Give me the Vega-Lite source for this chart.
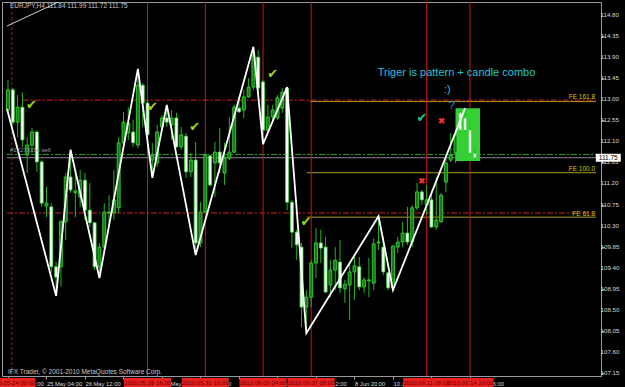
{
 "$schema": "https://vega.github.io/schema/vega-lite/v6.json",
 "width": 599, "height": 374,
 "autosize": {"type": "none"},
 "padding": {"left": 2, "top": 2, "right": 24, "bottom": 11},
 "background": "#000000",
 "config": {
  "view": {"stroke": "#9a9a9a", "strokeWidth": 1},
  "axis": {"grid": false, "domain": false, "labelFont": "Liberation Sans", "labelFontSize": 5.8, "labelColor": "#d8d8d8", "tickColor": "#a0a0a0", "tickSize": 3, "title": null}
 },
 "datasets": {
  "cd": [
   {"i":0,"o":112.77,"h":113.41,"l":112.73,"c":113.20},
   {"i":1,"o":113.20,"h":113.24,"l":112.45,"c":112.51},
   {"i":2,"o":112.51,"h":113.09,"l":112.19,"c":112.83},
   {"i":3,"o":112.83,"h":113.15,"l":111.98,"c":112.13},
   {"i":4,"o":111.81,"h":112.19,"l":111.42,"c":112.02},
   {"i":5,"o":112.02,"h":112.39,"l":111.85,"c":112.30},
   {"i":6,"o":112.30,"h":112.34,"l":111.45,"c":111.66},
   {"i":7,"o":111.66,"h":111.70,"l":110.70,"c":110.78},
   {"i":8,"o":110.72,"h":111.13,"l":110.48,"c":110.78},
   {"i":9,"o":110.70,"h":110.78,"l":109.29,"c":109.42},
   {"i":10,"o":109.42,"h":109.52,"l":108.80,"c":109.20},
   {"i":11,"o":109.42,"h":110.42,"l":108.99,"c":110.38},
   {"i":12,"o":110.38,"h":111.42,"l":109.99,"c":111.34},
   {"i":13,"o":111.34,"h":111.92,"l":111.00,"c":111.06},
   {"i":14,"o":111.00,"h":111.49,"l":110.48,"c":111.04},
   {"i":15,"o":110.91,"h":111.49,"l":110.70,"c":111.27},
   {"i":16,"o":111.27,"h":111.42,"l":110.42,"c":110.63},
   {"i":17,"o":110.63,"h":111.21,"l":110.27,"c":110.36},
   {"i":18,"o":110.36,"h":110.38,"l":109.35,"c":109.42},
   {"i":19,"o":109.42,"h":109.93,"l":109.18,"c":109.84},
   {"i":20,"o":109.84,"h":110.78,"l":109.71,"c":110.59},
   {"i":21,"o":110.57,"h":110.95,"l":110.27,"c":110.59},
   {"i":22,"o":110.57,"h":111.49,"l":110.42,"c":110.85},
   {"i":23,"o":110.68,"h":112.19,"l":110.57,"c":112.07},
   {"i":24,"o":112.07,"h":112.73,"l":111.92,"c":112.51},
   {"i":25,"o":112.28,"h":112.83,"l":112.13,"c":112.49},
   {"i":26,"o":112.30,"h":112.56,"l":111.98,"c":112.07},
   {"i":27,"o":112.02,"h":113.65,"l":111.96,"c":113.30},
   {"i":28,"o":113.30,"h":113.35,"l":112.41,"c":112.92},
   {"i":29,"o":112.92,"h":112.98,"l":111.85,"c":112.24},
   {"i":30,"o":111.70,"h":112.07,"l":111.32,"c":111.81},
   {"i":31,"o":111.64,"h":112.45,"l":111.55,"c":112.30},
   {"i":32,"o":112.41,"h":112.66,"l":112.30,"c":112.60},
   {"i":33,"o":112.60,"h":112.88,"l":112.41,"c":112.51},
   {"i":34,"o":112.45,"h":112.77,"l":112.13,"c":112.60},
   {"i":35,"o":112.60,"h":112.71,"l":111.96,"c":111.98},
   {"i":36,"o":111.98,"h":112.41,"l":111.92,"c":112.24},
   {"i":37,"o":112.21,"h":112.28,"l":111.32,"c":111.45},
   {"i":38,"o":111.45,"h":111.85,"l":111.34,"c":111.70},
   {"i":39,"o":111.70,"h":112.09,"l":109.67,"c":109.93},
   {"i":40,"o":109.93,"h":110.80,"l":109.84,"c":110.59},
   {"i":41,"o":110.59,"h":111.85,"l":110.57,"c":111.81},
   {"i":42,"o":111.79,"h":111.81,"l":111.13,"c":111.17},
   {"i":43,"o":111.64,"h":112.09,"l":110.91,"c":111.87},
   {"i":44,"o":111.87,"h":112.39,"l":111.42,"c":111.64},
   {"i":45,"o":111.42,"h":112.07,"l":111.17,"c":111.74},
   {"i":46,"o":111.74,"h":112.62,"l":111.70,"c":111.87},
   {"i":47,"o":111.87,"h":112.88,"l":111.85,"c":112.83},
   {"i":48,"o":112.81,"h":113.05,"l":112.71,"c":112.73},
   {"i":49,"o":112.77,"h":113.20,"l":112.60,"c":113.05},
   {"i":50,"o":113.05,"h":113.45,"l":113.03,"c":113.26},
   {"i":51,"o":113.26,"h":114.12,"l":113.20,"c":113.95},
   {"i":52,"o":113.90,"h":114.05,"l":113.05,"c":113.24},
   {"i":53,"o":113.37,"h":113.41,"l":112.04,"c":112.34},
   {"i":54,"o":112.34,"h":112.88,"l":112.28,"c":112.62},
   {"i":55,"o":112.62,"h":112.88,"l":112.51,"c":112.77},
   {"i":56,"o":112.60,"h":113.09,"l":112.56,"c":113.03},
   {"i":57,"o":112.81,"h":113.24,"l":112.71,"c":113.15},
   {"i":58,"o":113.24,"h":113.26,"l":110.63,"c":110.80},
   {"i":59,"o":110.80,"h":110.85,"l":109.82,"c":110.16},
   {"i":60,"o":110.16,"h":110.21,"l":109.56,"c":109.89},
   {"i":61,"o":109.84,"h":109.93,"l":108.13,"c":108.56},
   {"i":62,"o":108.56,"h":108.92,"l":108.00,"c":108.77},
   {"i":63,"o":108.77,"h":109.56,"l":108.56,"c":109.50},
   {"i":64,"o":109.50,"h":110.25,"l":109.18,"c":109.93},
   {"i":65,"o":109.93,"h":110.21,"l":109.50,"c":109.82},
   {"i":66,"o":109.84,"h":110.06,"l":108.86,"c":108.88},
   {"i":67,"o":109.03,"h":109.56,"l":108.77,"c":109.35},
   {"i":68,"o":109.35,"h":109.84,"l":108.92,"c":109.56},
   {"i":69,"o":109.52,"h":109.99,"l":108.86,"c":108.97},
   {"i":70,"o":108.95,"h":109.14,"l":108.65,"c":109.05},
   {"i":71,"o":109.03,"h":109.50,"l":108.28,"c":109.31},
   {"i":72,"o":109.31,"h":109.63,"l":108.71,"c":109.44},
   {"i":73,"o":109.42,"h":109.63,"l":108.92,"c":108.99},
   {"i":74,"o":108.99,"h":109.20,"l":108.86,"c":109.14},
   {"i":75,"o":109.12,"h":109.61,"l":108.77,"c":109.14},
   {"i":76,"o":109.07,"h":110.03,"l":108.92,"c":109.91},
   {"i":77,"o":109.93,"h":110.50,"l":109.78,"c":109.95},
   {"i":78,"o":109.84,"h":110.06,"l":109.24,"c":109.31},
   {"i":79,"o":109.29,"h":109.31,"l":108.92,"c":108.97},
   {"i":80,"o":108.97,"h":109.89,"l":108.92,"c":109.86},
   {"i":81,"o":109.84,"h":110.06,"l":109.71,"c":109.95},
   {"i":82,"o":109.95,"h":110.38,"l":109.84,"c":110.14},
   {"i":83,"o":110.14,"h":110.70,"l":109.89,"c":109.95},
   {"i":84,"o":109.95,"h":110.74,"l":109.84,"c":110.68},
   {"i":85,"o":110.68,"h":111.21,"l":110.63,"c":111.02},
   {"i":86,"o":111.02,"h":111.06,"l":110.74,"c":110.85},
   {"i":87,"o":110.74,"h":111.17,"l":110.53,"c":110.85},
   {"i":88,"o":110.85,"h":111.00,"l":110.25,"c":110.27},
   {"i":89,"o":110.27,"h":111.34,"l":110.21,"c":110.42},
   {"i":90,"o":110.38,"h":111.00,"l":110.36,"c":110.95},
   {"i":91,"o":111.23,"h":111.74,"l":111.02,"c":111.64},
   {"i":92,"o":111.70,"h":112.28,"l":111.66,"c":111.81},
   {"i":93,"o":111.85,"h":112.34,"l":111.64,"c":112.24},
   {"i":94,"o":112.71,"h":112.77,"l":112.28,"c":112.34},
   {"i":95,"o":112.60,"h":112.81,"l":112.30,"c":112.34},
   {"i":96,"o":112.34,"h":112.41,"l":111.81,"c":111.85},
   {"i":97,"o":111.84,"h":111.99,"l":111.72,"c":111.75}
  ],
  "zz": [
   {"i":-0.2,"p":112.79},{"i":10,"p":108.80},{"i":13,"p":111.92},{"i":19,"p":109.18},{"i":27,"p":113.65},{"i":30,"p":111.32},{"i":33,"p":112.88},{"i":39,"p":109.67},{"i":51,"p":114.12},{"i":53,"p":112.04},{"i":58,"p":113.26},{"i":62,"p":108.00},{"i":77,"p":110.50},{"i":80,"p":108.92},{"i":95,"p":112.81}
  ],
  "tl": [{"i":-0.2,"p":114.565},{"i":10.63,"p":115.084}],
  "hl": [
   {"k":"red","p":112.98,"a":3.06,"b":122.19},
   {"k":"red","p":110.57,"a":-0.2,"b":122.19},
   {"k":"olive","p":112.95,"a":62.7,"b":122.19},
   {"k":"olive","p":111.43,"a":62.1,"b":122.19},
   {"k":"olive","p":110.48,"a":62.1,"b":122.19},
   {"k":"green","p":111.82,"a":-0.2,"b":122.19},
   {"k":"gray","p":111.75,"a":-0.2,"b":122.19}
  ],
  "vl": [
   {"i":0.8,"k":"d","t":"2010.05.24 00:00"},
   {"i":29,"k":"s","t":"2010.05.28 16:00"},
   {"i":41,"k":"s","t":"2010.05.31 16:00"},
   {"i":53,"k":"s","t":"2010.06.03 04:00"},
   {"i":63,"k":"s","t":"2010.06.07 08:00"},
   {"i":87,"k":"s","t":"2010.06.11 08:00"},
   {"i":96,"k":"s","t":"2010.06.14 20:00"}
  ],
  "yl": [
   {"i":122.19,"p":107.15},{"i":122.19,"p":107.60},{"i":122.19,"p":108.05},{"i":122.19,"p":108.50},{"i":122.19,"p":108.95},{"i":122.19,"p":109.40},{"i":122.19,"p":109.85},{"i":122.19,"p":110.30},{"i":122.19,"p":110.75},{"i":122.19,"p":111.20},{"i":122.19,"p":111.65},{"i":122.19,"p":112.10},{"i":122.19,"p":112.55},{"i":122.19,"p":113.00},{"i":122.19,"p":113.45},{"i":122.19,"p":113.90},{"i":122.19,"p":114.35},{"i":122.19,"p":114.80}
  ],
  "gr": [{"a":93.0,"b":98.1,"p1":111.68,"p2":112.81}],
  "tx": [
   {"k":"hdr","i":0.4,"p":115.0,"t":"EURJPY,H4  111.84 111.99 111.72 111.75"},
   {"k":"hdr","i":0.0,"p":107.18,"t":"IFX Trader, © 2001-2010 MetaQuotes Software Corp."},
   {"k":"sell","i":0.4,"p":111.92,"t":"#12273156 sell"},
   {"k":"main","i":93.2,"p":113.57,"t":"Triger is pattern + candle combo"},
   {"k":"main","i":91.3,"p":113.20,"t":":)"},
   {"k":"q","i":92.2,"p":112.86,"t":"?"},
   {"k":"ok","i":4.9,"p":112.88,"t":"✔"},
   {"k":"ok","i":30.0,"p":112.83,"t":"✔"},
   {"k":"ok","i":38.8,"p":112.41,"t":"✔"},
   {"k":"ok","i":55.0,"p":113.54,"t":"✔"},
   {"k":"ok","i":61.9,"p":110.38,"t":"✔"},
   {"k":"ok2","i":86.0,"p":112.60,"t":"✔"},
   {"k":"x","i":90.1,"p":112.53,"t":"✖"},
   {"k":"x","i":86.0,"p":111.25,"t":"✖"},
   {"k":"fe","i":122.0,"p":113.04,"t":"FE 161.8"},
   {"k":"fe","i":122.0,"p":111.51,"t":"FE 100.0"},
   {"k":"fe","i":122.0,"p":110.55,"t":"FE 61.8"}
  ],
  "pb": [{"i":124.74,"p1":111.665,"p2":111.835,"p":111.75,"t":"111.75"}]
 },
 "layer": [
  {
   "data": {"name": "hl"},
   "transform": [{"filter": "datum.k == 'red'"}],
   "mark": {"type": "rule", "color": "#d42020", "strokeDash": [6, 2, 2, 2], "strokeWidth": 1},
   "encoding": {
    "x": {"field": "a", "type": "quantitative", "title": null,
     "scale": {"domain": [-0.204, 122.19], "nice": false, "zero": false},
     "axis": {"orient": "bottom", "values": [0, 8, 16, 24, 32, 40, 48, 56, 64, 72, 80, 88, 96],
      "labelExpr": "datum.value==0?'23 May 20:00':datum.value==8?'25 May 04:00':datum.value==16?'26 May 12:00':datum.value==24?'27 May 20:00':datum.value==32?'31 May 04:00':datum.value==40?'1 Jun 12:00':datum.value==48?'2 Jun 20:00':datum.value==56?'4 Jun 04:00':datum.value==64?'7 Jun 12:00':datum.value==72?'8 Jun 20:00':datum.value==80?'10 Jun 04:00':datum.value==88?'11 Jun 12:00':'14 Jun 16:00'",
      "labelAlign": "left", "labelBaseline": "top", "labelPadding": 1.5, "labelOverlap": false, "labelBound": false, "labelFlush": false}},
    "x2": {"field": "b"},
    "y": {"field": "p", "type": "quantitative", "title": null,
     "scale": {"domain": [107.086, 115.078], "nice": false, "zero": false},
     "axis": {"orient": "right", "values": [107.15, 107.6, 108.05, 108.5, 108.95, 109.4, 109.85, 110.3, 110.75, 111.2, 111.65, 112.1, 112.55, 113.0, 113.45, 113.9, 114.35, 114.8], "labels": false}}
   }
  },
  {
   "data": {"name": "hl"},
   "transform": [{"filter": "datum.k == 'olive'"}],
   "mark": {"type": "rule", "color": "#a89a10", "strokeWidth": 1},
   "encoding": {"x": {"field": "a", "type": "quantitative", "title": null}, "x2": {"field": "b"}, "y": {"field": "p", "type": "quantitative", "title": null}}
  },
  {
   "data": {"name": "hl"},
   "transform": [{"filter": "datum.k == 'green'"}],
   "mark": {"type": "rule", "color": "#1ea01e", "strokeDash": [6, 2, 2, 2], "strokeWidth": 1},
   "encoding": {"x": {"field": "a", "type": "quantitative", "title": null}, "x2": {"field": "b"}, "y": {"field": "p", "type": "quantitative", "title": null}}
  },
  {
   "data": {"name": "hl"},
   "transform": [{"filter": "datum.k == 'gray'"}],
   "mark": {"type": "rule", "color": "#8a8a92", "strokeWidth": 1},
   "encoding": {"x": {"field": "a", "type": "quantitative", "title": null}, "x2": {"field": "b"}, "y": {"field": "p", "type": "quantitative", "title": null}}
  },
  {
   "data": {"name": "vl"},
   "transform": [{"filter": "datum.k == 's'"}],
   "mark": {"type": "rule", "color": "#c41a1a", "strokeWidth": 1},
   "encoding": {"x": {"field": "i", "type": "quantitative", "title": null}}
  },
  {
   "data": {"name": "vl"},
   "transform": [{"filter": "datum.k == 'd'"}],
   "mark": {"type": "rule", "color": "#9a1a1a", "strokeWidth": 1, "strokeDash": [3, 2]},
   "encoding": {"x": {"field": "i", "type": "quantitative", "title": null}}
  },
  {
   "data": {"name": "gr"},
   "mark": {"type": "rect", "color": "#36d036"},
   "encoding": {"x": {"field": "a", "type": "quantitative", "title": null}, "x2": {"field": "b"}, "y": {"field": "p1", "type": "quantitative", "title": null}, "y2": {"field": "p2"}}
  },
  {
   "data": {"name": "cd"},
   "mark": {"type": "rule", "color": "#22b422", "strokeWidth": 1},
   "encoding": {"x": {"field": "i", "type": "quantitative", "title": null}, "y": {"field": "l", "type": "quantitative", "title": null}, "y2": {"field": "h"}}
  },
  {
   "data": {"name": "cd"},
   "mark": {"type": "bar", "size": 3, "stroke": "#3ade3a", "strokeWidth": 0.8},
   "encoding": {
    "x": {"field": "i", "type": "quantitative", "title": null},
    "y": {"field": "o", "type": "quantitative", "title": null},
    "y2": {"field": "c"},
    "fill": {"condition": {"test": "datum.c < datum.o", "value": "#ffffff"}, "value": "#147a14"}
   }
  },
  {
   "data": {"name": "zz"},
   "mark": {"type": "line", "color": "#ffffff", "strokeWidth": 1.8},
   "encoding": {"x": {"field": "i", "type": "quantitative", "title": null}, "y": {"field": "p", "type": "quantitative", "title": null}}
  },
  {
   "data": {"name": "tl"},
   "mark": {"type": "line", "color": "#d0d0d0", "strokeWidth": 1, "clip": true},
   "encoding": {"x": {"field": "i", "type": "quantitative", "title": null}, "y": {"field": "p", "type": "quantitative", "title": null}}
  },
  {
   "data": {"name": "yl"},
   "mark": {"type": "text", "align": "left", "baseline": "middle", "dx": 4.5, "font": "Liberation Sans", "fontSize": 6.2, "color": "#d8d8d8"},
   "encoding": {"x": {"field": "i", "type": "quantitative", "title": null}, "y": {"field": "p", "type": "quantitative", "title": null}, "text": {"field": "p", "format": ".2f"}}
  },
  {
   "data": {"name": "tx"},
   "transform": [{"filter": "datum.k == 'hdr'"}],
   "mark": {"type": "text", "align": "left", "baseline": "middle", "font": "Liberation Sans", "fontSize": 6.5, "color": "#c8c8c8"},
   "encoding": {"x": {"field": "i", "type": "quantitative", "title": null}, "y": {"field": "p", "type": "quantitative", "title": null}, "text": {"field": "t"}}
  },
  {
   "data": {"name": "tx"},
   "transform": [{"filter": "datum.k == 'sell'"}],
   "mark": {"type": "text", "align": "left", "baseline": "middle", "font": "Liberation Sans", "fontSize": 6, "color": "#9a9a9a"},
   "encoding": {"x": {"field": "i", "type": "quantitative", "title": null}, "y": {"field": "p", "type": "quantitative", "title": null}, "text": {"field": "t"}}
  },
  {
   "data": {"name": "tx"},
   "transform": [{"filter": "datum.k == 'main'"}],
   "mark": {"type": "text", "align": "center", "baseline": "middle", "font": "Liberation Sans", "fontSize": 11, "color": "#1cc4d4"},
   "encoding": {"x": {"field": "i", "type": "quantitative", "title": null}, "y": {"field": "p", "type": "quantitative", "title": null}, "text": {"field": "t"}}
  },
  {
   "data": {"name": "tx"},
   "transform": [{"filter": "datum.k == 'q'"}],
   "mark": {"type": "text", "align": "center", "baseline": "middle", "font": "Liberation Sans", "fontSize": 11, "color": "#2a9ad0"},
   "encoding": {"x": {"field": "i", "type": "quantitative", "title": null}, "y": {"field": "p", "type": "quantitative", "title": null}, "text": {"field": "t"}}
  },
  {
   "data": {"name": "tx"},
   "transform": [{"filter": "datum.k == 'ok'"}],
   "mark": {"type": "text", "align": "center", "baseline": "middle", "font": "DejaVu Sans", "fontSize": 13, "color": "#96d81e"},
   "encoding": {"x": {"field": "i", "type": "quantitative", "title": null}, "y": {"field": "p", "type": "quantitative", "title": null}, "text": {"field": "t"}}
  },
  {
   "data": {"name": "tx"},
   "transform": [{"filter": "datum.k == 'ok2'"}],
   "mark": {"type": "text", "align": "center", "baseline": "middle", "font": "DejaVu Sans", "fontSize": 13, "color": "#20c888"},
   "encoding": {"x": {"field": "i", "type": "quantitative", "title": null}, "y": {"field": "p", "type": "quantitative", "title": null}, "text": {"field": "t"}}
  },
  {
   "data": {"name": "tx"},
   "transform": [{"filter": "datum.k == 'x'"}],
   "mark": {"type": "text", "align": "center", "baseline": "middle", "font": "DejaVu Sans", "fontSize": 9, "color": "#ff3030"},
   "encoding": {"x": {"field": "i", "type": "quantitative", "title": null}, "y": {"field": "p", "type": "quantitative", "title": null}, "text": {"field": "t"}}
  },
  {
   "data": {"name": "tx"},
   "transform": [{"filter": "datum.k == 'fe'"}],
   "mark": {"type": "text", "align": "right", "baseline": "middle", "font": "Liberation Sans", "fontSize": 6.5, "color": "#d0c410"},
   "encoding": {"x": {"field": "i", "type": "quantitative", "title": null}, "y": {"field": "p", "type": "quantitative", "title": null}, "text": {"field": "t"}}
  },
  {
   "data": {"name": "pb"},
   "mark": {"type": "bar", "size": 25, "color": "#ffffff"},
   "encoding": {"x": {"field": "i", "type": "quantitative", "title": null}, "y": {"field": "p1", "type": "quantitative", "title": null}, "y2": {"field": "p2"}}
  },
  {
   "data": {"name": "pb"},
   "mark": {"type": "text", "align": "center", "baseline": "middle", "font": "Liberation Sans", "fontSize": 6.5, "color": "#000000"},
   "encoding": {"x": {"field": "i", "type": "quantitative", "title": null}, "y": {"field": "p", "type": "quantitative", "title": null}, "text": {"field": "t"}}
  },
  {
   "data": {"name": "vl"},
   "mark": {"type": "bar", "size": 47, "color": "#e82020"},
   "encoding": {"x": {"field": "i", "type": "quantitative", "title": null}, "y": {"datum": 106.85}, "y2": {"datum": 107.045}}
  },
  {
   "data": {"name": "vl"},
   "mark": {"type": "text", "align": "center", "baseline": "middle", "font": "Liberation Sans", "fontSize": 6, "color": "#6a0000"},
   "encoding": {"x": {"field": "i", "type": "quantitative", "title": null}, "y": {"datum": 106.945}, "text": {"field": "t"}}
  }
 ]
}
